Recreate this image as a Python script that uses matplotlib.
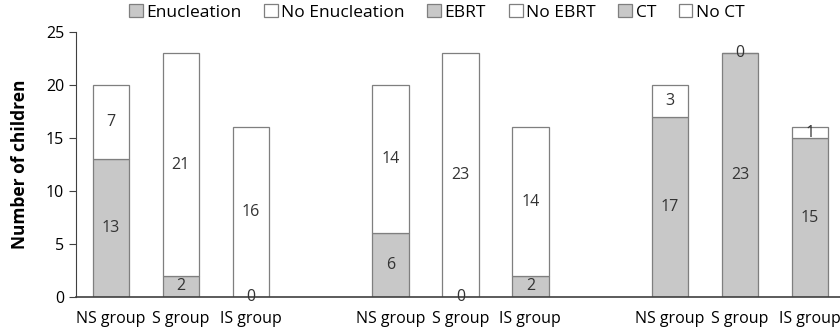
import numpy as np
import matplotlib.pyplot as plt

plt.rcParams['font.family'] = ['Open Sans', 'DejaVu Sans']

groups = ["NS group", "S group", "IS group"]
treatments = ["Enucleation", "EBRT", "CT"]
yes_counts = [[13, 2, 0], [6, 0, 2], [17, 23, 15]]
no_counts = [[7, 21, 16], [14, 23, 14], [3, 0, 1]]

gray = "#c8c8c8"
edge = "#7f7f7f"

fig = plt.figure(figsize=(8.4, 3.33), dpi=100)
ax = fig.add_axes([0.0905, 0.108, 0.9095, 0.796])

positions = []
labels = []
for i, name in enumerate(treatments):
    x = np.arange(3) + 4 * i
    yes = np.array(yes_counts[i])
    no = np.array(no_counts[i])
    b1 = ax.bar(x, yes, width=0.52, color=gray, edgecolor=edge, linewidth=0.9, label=name)
    b2 = ax.bar(x, no, width=0.52, bottom=yes, color="white", edgecolor=edge, linewidth=0.9,
                label="No " + name)
    ax.bar_label(b1, labels=[str(v) for v in yes], label_type="center", fontsize=11.5, color="#333333")
    ax.bar_label(b2, labels=[str(v) for v in no], label_type="center", fontsize=11.5, color="#333333")
    positions.extend(x)
    labels.extend(groups)

ax.set_xticks(positions)
ax.set_xticklabels(labels, fontsize=11.5)
ax.tick_params(axis="x", length=0, pad=10)
ax.set_xlim(-0.5, 10.43)
ax.set_ylim(0, 25)
ax.set_yticks([0, 5, 10, 15, 20, 25])
ax.tick_params(axis="y", direction="out", length=5, labelsize=11.5, color="#404040")
ax.set_ylabel("Number of children", fontsize=12.5, fontweight="bold", labelpad=12)

for s in ["top", "right"]:
    ax.spines[s].set_visible(False)
ax.spines["left"].set_color("#404040")
ax.spines["bottom"].set_color("#404040")
ax.spines["bottom"].set_linewidth(1.2)

ax.legend(loc="upper center", bbox_to_anchor=(0.472, 1.165), ncol=6, frameon=False,
          fontsize=12.5, handlelength=0.8, handleheight=0.8, handletextpad=0.2, columnspacing=1.3)

fig.savefig("out.png", dpi=100)
